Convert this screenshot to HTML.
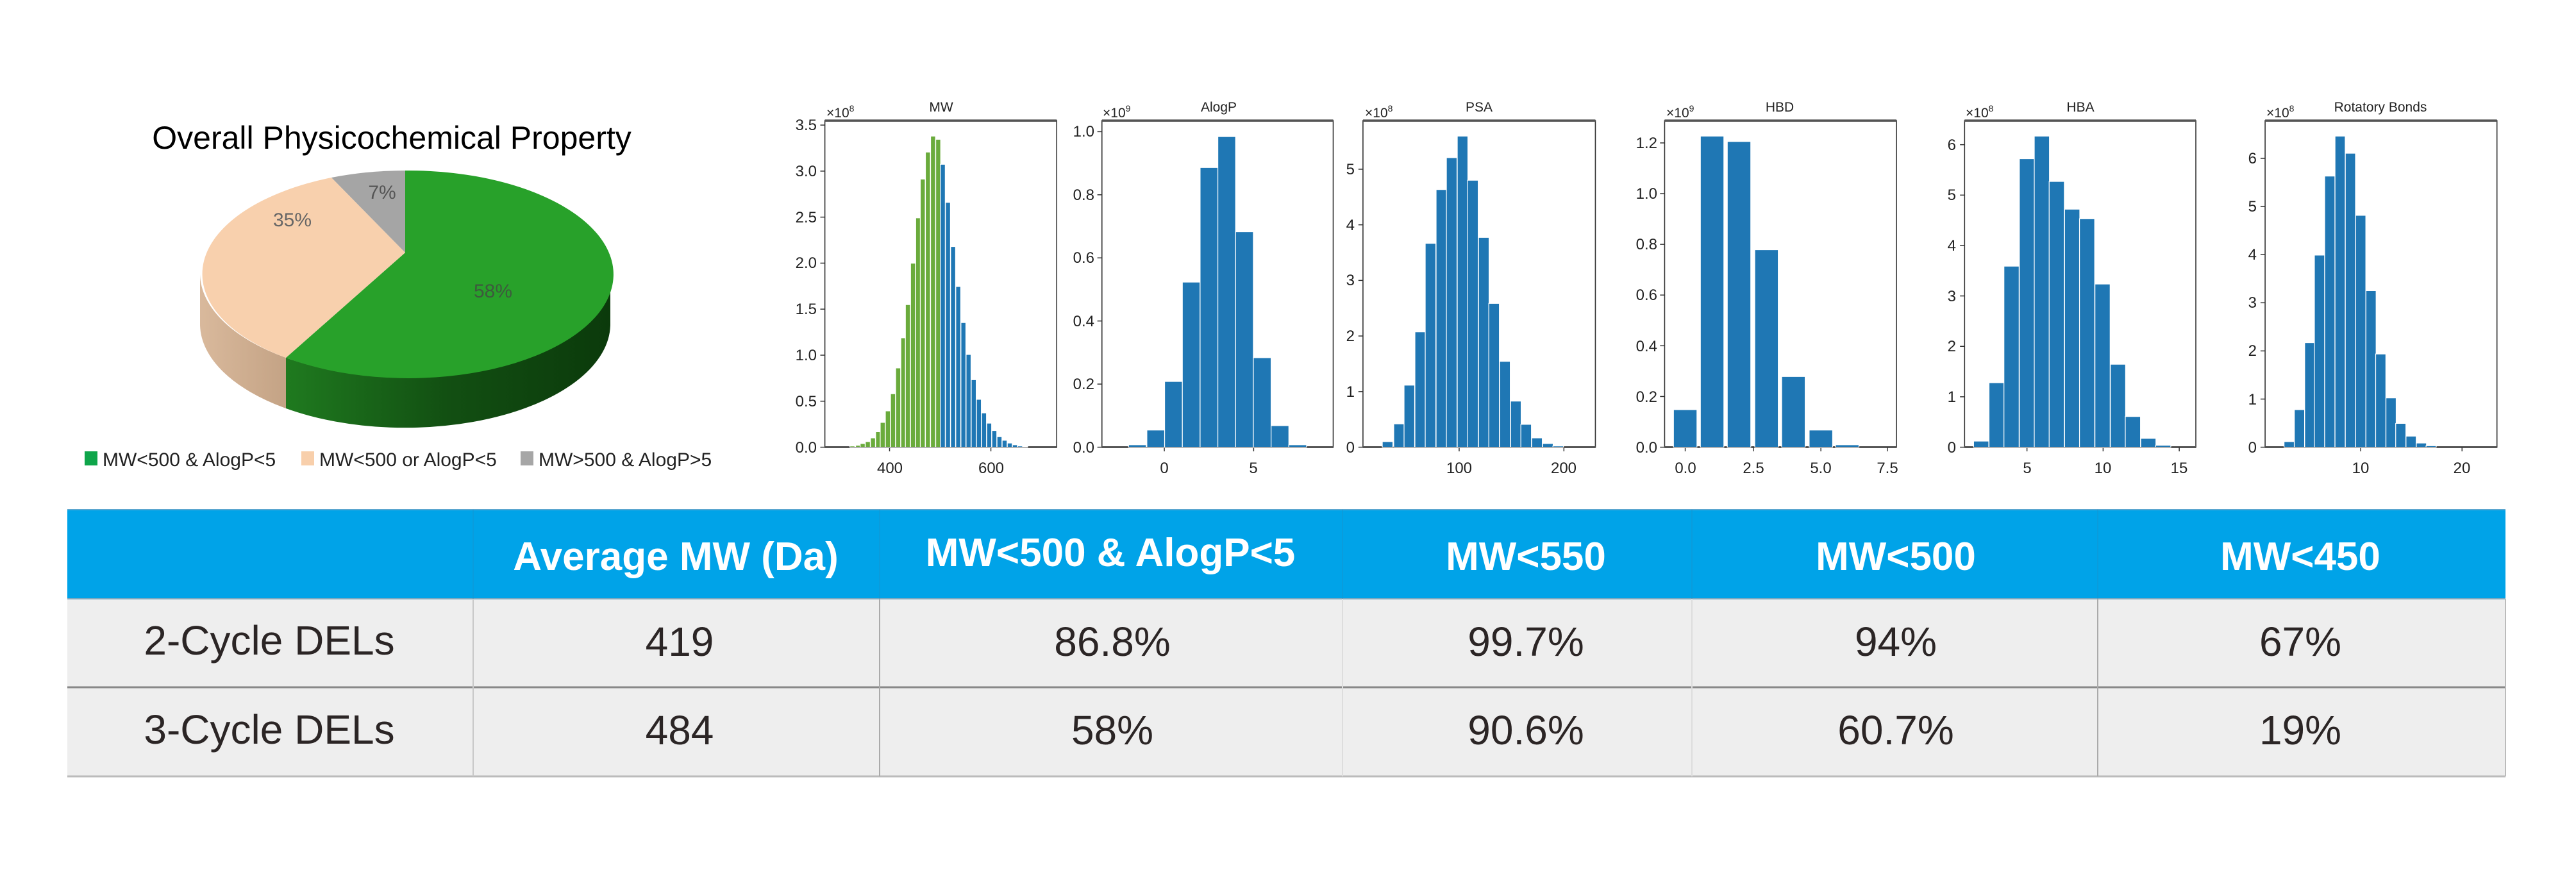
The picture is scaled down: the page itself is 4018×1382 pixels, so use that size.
<!DOCTYPE html>
<html><head><meta charset="utf-8"><style>
html,body{margin:0;padding:0;background:#fff;}
body{width:4018px;height:1382px;position:relative;overflow:hidden;font-family:"Liberation Sans",sans-serif;}
svg{position:absolute;left:0;top:0;}
</style></head><body>
<svg id="s" width="4018" height="1382" viewBox="0 0 4018 1382" xmlns="http://www.w3.org/2000/svg" font-family="Liberation Sans, sans-serif">
<defs>
<linearGradient id="gs" x1="0" x2="1" y1="0" y2="0"><stop offset="0" stop-color="#1f7a1f"/><stop offset="0.5" stop-color="#124f12"/><stop offset="1" stop-color="#0b3a0b"/></linearGradient>
<linearGradient id="ps" x1="0" x2="1"><stop offset="0" stop-color="#d9b99c"/><stop offset="1" stop-color="#c4a385"/></linearGradient>
</defs>
<!-- Pie -->
<text x="611" y="232" font-size="50" text-anchor="middle" fill="#000">Overall Physicochemical Property</text>
<path d="M312,428 A320,162 0 0 0 446,558 L446,637 A320,162 0 0 1 312,507 Z" fill="url(#ps)"/>
<path d="M446,558 A320,162 0 0 0 952,428 L952,507 A320,162 0 0 1 446,637 Z" fill="url(#gs)"/>
<path d="M632,394 L632,266 A320,162 0 1 1 446,558 Z" fill="#28a12a"/>
<path d="M632,394 L446,558 A320,162 0 0 1 517,277 Z" fill="#f8d0ad"/>
<path d="M632,394 L517,277 A320,162 0 0 1 632,266 Z" fill="#a5a5a5"/>
<text x="769" y="464" font-size="30" fill="#3d5a3d" text-anchor="middle">58%</text>
<text x="456" y="353" font-size="30" fill="#666" text-anchor="middle">35%</text>
<text x="596" y="310" font-size="30" fill="#555" text-anchor="middle">7%</text>
<rect x="132" y="704" width="20" height="22" fill="#0ea54a"/>
<text x="160" y="727" font-size="30" fill="#222">MW&lt;500 &amp; AlogP&lt;5</text>
<rect x="470" y="704" width="20" height="22" fill="#f8cfab"/>
<text x="498" y="727" font-size="30" fill="#222">MW&lt;500 or AlogP&lt;5</text>
<rect x="812" y="704" width="20" height="22" fill="#a6a6a6"/>
<text x="840" y="727" font-size="30" fill="#222">MW&gt;500 &amp; AlogP&gt;5</text>

<g id="g1" transform="translate(1200,130) scale(0.8929,0.3827)"></g>
<g id="g2" transform="translate(2550,130) scale(0.8929,0.3827)"></g>

<g font-size="24" fill="#222">
<g text-anchor="middle" font-size="21">
<text x="1468" y="174">MW</text><text x="1901" y="174">AlogP</text><text x="2307" y="174">PSA</text>
<text x="2776" y="174">HBD</text><text x="3245" y="174">HBA</text><text x="3713" y="174">Rotatory Bonds</text>
</g>
<g font-size="21">
<text x="1289" y="183">×10<tspan dy="-9" font-size="14">8</tspan></text>
<text x="1720" y="183">×10<tspan dy="-9" font-size="14">9</tspan></text>
<text x="2129" y="183">×10<tspan dy="-9" font-size="14">8</tspan></text>
<text x="2599" y="183">×10<tspan dy="-9" font-size="14">9</tspan></text>
<text x="3066" y="183">×10<tspan dy="-9" font-size="14">8</tspan></text>
<text x="3535" y="183">×10<tspan dy="-9" font-size="14">8</tspan></text>
</g>
<g text-anchor="end">
<text x="1274" y="706">0.0</text><text x="1274" y="634">0.5</text><text x="1274" y="562">1.0</text><text x="1274" y="490">1.5</text><text x="1274" y="418">2.0</text><text x="1274" y="347">2.5</text><text x="1274" y="275">3.0</text><text x="1274" y="203">3.5</text>
<text x="1707" y="706">0.0</text><text x="1707" y="607">0.2</text><text x="1707" y="509">0.4</text><text x="1707" y="410">0.6</text><text x="1707" y="312">0.8</text><text x="1707" y="213">1.0</text>
<text x="2113" y="706">0</text><text x="2113" y="619">1</text><text x="2113" y="532">2</text><text x="2113" y="445">3</text><text x="2113" y="359">4</text><text x="2113" y="272">5</text>
<text x="2585" y="706">0.0</text><text x="2585" y="627">0.2</text><text x="2585" y="548">0.4</text><text x="2585" y="468">0.6</text><text x="2585" y="389">0.8</text><text x="2585" y="310">1.0</text><text x="2585" y="231">1.2</text>
<text x="3051" y="706">0</text><text x="3051" y="627">1</text><text x="3051" y="548">2</text><text x="3051" y="470">3</text><text x="3051" y="391">4</text><text x="3051" y="312">5</text><text x="3051" y="234">6</text>
<text x="3520" y="706">0</text><text x="3520" y="631">1</text><text x="3520" y="555">2</text><text x="3520" y="480">3</text><text x="3520" y="405">4</text><text x="3520" y="330">5</text><text x="3520" y="255">6</text>
</g>
<g text-anchor="middle">
<text x="1388" y="738">400</text><text x="1546" y="738">600</text>
<text x="1816" y="738">0</text><text x="1955" y="738">5</text>
<text x="2276" y="738">100</text><text x="2439" y="738">200</text>
<text x="2629" y="738">0.0</text><text x="2735" y="738">2.5</text><text x="2840" y="738">5.0</text><text x="2944" y="738">7.5</text>
<text x="3162" y="738">5</text><text x="3280" y="738">10</text><text x="3399" y="738">15</text>
<text x="3682" y="738">10</text><text x="3840" y="738">20</text>
</g>
</g>

<!-- Table -->
<rect x="105" y="795" width="3803" height="139" fill="#00a3e8"/>
<rect x="105" y="934" width="3803" height="277" fill="#eeeeee"/>
<line x1="105" y1="934" x2="3908" y2="934" stroke="#7aa8c0" stroke-width="2"/>
<line x1="105" y1="1072" x2="3908" y2="1072" stroke="#888" stroke-width="3"/>
<line x1="105" y1="1211" x2="3908" y2="1211" stroke="#bbb" stroke-width="3"/>
<line x1="105" y1="795" x2="3908" y2="795" stroke="#5aa6cf" stroke-width="2"/>
<g stroke="#c8c8c8" stroke-width="2">
<line x1="738" y1="934" x2="738" y2="1211"/><line x1="1372" y1="934" x2="1372" y2="1211" stroke="#aaa"/>
<line x1="2094" y1="934" x2="2094" y2="1211" stroke="#ddd"/><line x1="2639" y1="934" x2="2639" y2="1211" stroke="#ddd"/>
<line x1="3272" y1="934" x2="3272" y2="1211" stroke="#aaa"/><line x1="3908" y1="934" x2="3908" y2="1211" stroke="#bbb"/>
</g>
<g stroke="#1a90c8" stroke-width="1.5" opacity="0.5"><line x1="738" y1="795" x2="738" y2="934"/><line x1="1372" y1="795" x2="1372" y2="934"/><line x1="2094" y1="795" x2="2094" y2="934"/><line x1="2639" y1="795" x2="2639" y2="934"/><line x1="3272" y1="795" x2="3272" y2="934"/></g>
<g fill="#fff" font-weight="bold" font-size="62" text-anchor="middle">
<text x="1054" y="889">Average MW (Da)</text>
<text x="1732" y="883">MW&lt;500 &amp; AlogP&lt;5</text>
<text x="2380" y="889">MW&lt;550</text>
<text x="2957" y="889">MW&lt;500</text>
<text x="3588" y="889">MW&lt;450</text>
</g>
<g fill="#2b2525" font-size="64" text-anchor="middle">
<text x="420" y="1021">2-Cycle DELs</text>
<text x="1060" y="1023">419</text><text x="1735" y="1023">86.8%</text><text x="2380" y="1023">99.7%</text><text x="2957" y="1023">94%</text><text x="3588" y="1023">67%</text>
<text x="420" y="1160">3-Cycle DELs</text>
<text x="1060" y="1161">484</text><text x="1735" y="1161">58%</text><text x="2380" y="1161">90.6%</text><text x="2957" y="1161">60.7%</text><text x="3588" y="1161">19%</text>
</g>
</svg>
<script>
var NS="http://www.w3.org/2000/svg";
function el(g,t,a){var e=document.createElementNS(NS,t);for(var k in a)e.setAttribute(k,a[k]);g.appendChild(e);return e;}
function bars(g,list,w,col){list.forEach(function(b){var c=col;if(b.length>2)c=b[2];
el(g,"rect",{x:b[0]-w/2,y:b[1],width:w,height:1483-b[1],fill:c,stroke:"#fff","stroke-width":1.2,"vector-effect":"non-scaling-stroke"});});}
function box(g,x1,x2,ticksY,ticksX){
el(g,"rect",{x:x1,y:152,width:x2-x1,height:1331,fill:"none",stroke:"#333","stroke-width":1.6,"vector-effect":"non-scaling-stroke"});
el(g,"line",{x1:x1,y1:152,x2:x2,y2:152,stroke:"#555","stroke-width":3.5,"vector-effect":"non-scaling-stroke"});
el(g,"line",{x1:x1,y1:1483,x2:x2,y2:1483,stroke:"#555","stroke-width":3,"vector-effect":"non-scaling-stroke"});
ticksY.forEach(function(y){el(g,"line",{x1:x1-8,y1:y,x2:x1,y2:y,stroke:"#333","stroke-width":1.5,"vector-effect":"non-scaling-stroke"});});
ticksX.forEach(function(x){el(g,"line",{x1:x,y1:1483,x2:x,y2:1500,stroke:"#333","stroke-width":1.5,"vector-effect":"non-scaling-stroke"});});}
var B="#1f77b4",G="#6aab3c";
var g1=document.getElementById("g1"),g2=document.getElementById("g2");
var mw=[[145,1478,G],[155,1475,G],[163,1468,G],[172,1460,G],[181,1445,G],[190,1420,G],[198,1382,G],[207,1335,G],[216,1265,G],[225,1160,G],[234,1037,G],[242,902,G],[251,733,G],[260,548,G],[268,390,G],[277,280,G],[286,215,G],[295,228,G],
[303,330],[312,485],[321,665],[330,828],[339,975],[348,1105],[357,1208],[366,1288],[375,1343],[384,1385],[393,1415],[402,1440],[411,1455],[420,1466],[429,1473],[438,1478],[447,1480]];
function ty(n,step){var a=[];for(var i=0;i<n;i++)a.push(1483-i*step);return a;}
box(g1,97,502,ty(8,187.55),[210,387]);bars(g1,mw,8.6,B);
box(g1,581,985,ty(6,257.2),[690,846]);
bars(g1,[[643,1473],[675,1413],[706,1215],[737,810],[768,343],[799,217],[830,605],[861,1118],[892,1395],[923,1473]],31,B);
box(g1,1037,1443,ty(6,226.6),[1205,1388]);
bars(g1,[[1080,1460],[1100,1388],[1118,1230],[1137,1013],[1155,652],[1174,433],[1192,303],[1211,215],[1229,395],[1248,628],[1266,897],[1285,1133],[1304,1295],[1322,1390],[1341,1445],[1360,1468],[1378,1478]],18.5,B);
box(g2,52,457,ty(7,206.7),[88,207,325,441]);
bars(g2,[[88,1330],[135,215],[182,237],[230,678],[277,1195],[325,1413],[371,1473]],41,B);
box(g2,576,980,ty(7,205.5),[685,818,951]);
bars(g2,[[605,1458],[632,1220],[658,745],[685,307],[711,215],[737,400],[764,513],[790,552],[817,818],[844,1145],[870,1358],[897,1447],[923,1475]],26.5,B);
box(g2,1101,1506,ty(7,196.2),[1268,1445]);
bars(g2,[[1143,1460],[1161,1330],[1179,1057],[1196,700],[1214,378],[1232,215],[1250,285],[1268,538],[1286,845],[1303,1103],[1321,1282],[1338,1386],[1356,1438],[1374,1466],[1391,1477]],17.8,B);
</script>
</body></html>
